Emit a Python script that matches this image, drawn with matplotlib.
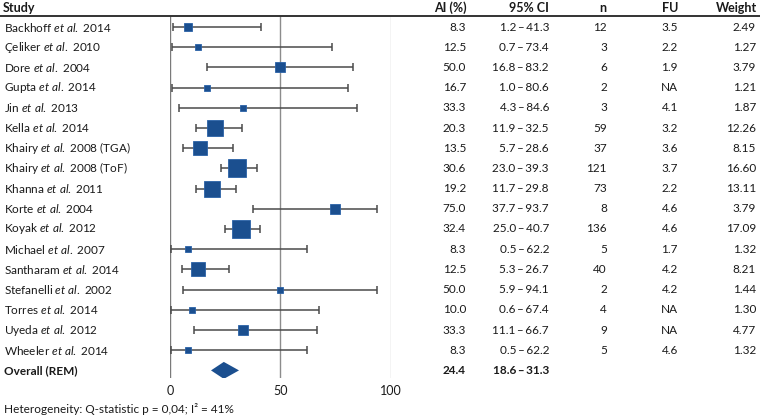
import matplotlib
matplotlib.use("Agg")
import matplotlib.pyplot as plt
import matplotlib.transforms as mtransforms
from matplotlib.lines import Line2D

plt.rcParams['font.family'] = ['Lato', 'DejaVu Sans']
plt.rcParams['mathtext.fontset'] = 'custom'
plt.rcParams['mathtext.it'] = 'Lato:italic'
plt.rcParams['mathtext.rm'] = 'Lato'

authors = ["Backhoff", "Çeliker", "Dore", "Gupta", "Jin", "Kella", "Khairy", "Khairy",
           "Khanna", "Korte", "Koyak", "Michael", "Santharam", "Stefanelli", "Torres",
           "Uyeda", "Wheeler"]
years = ["2014", "2010", "2004", "2014", "2013", "2014", "2008 (TGA)", "2008 (ToF)",
         "2011", "2004", "2012", "2007", "2014", "2002", "2014", "2012", "2014"]
ai = [8.3, 12.5, 50.0, 16.7, 33.3, 20.3, 13.5, 30.6, 19.2, 75.0, 32.4, 8.3, 12.5, 50.0, 10.0, 33.3, 8.3]
ci_lo = [1.2, 0.7, 16.8, 1.0, 4.3, 11.9, 5.7, 23.0, 11.7, 37.7, 25.0, 0.5, 5.3, 5.9, 0.6, 11.1, 0.5]
ci_hi = [41.3, 73.4, 83.2, 80.6, 84.6, 32.5, 28.6, 39.3, 29.8, 93.7, 40.7, 62.2, 26.7, 94.1, 67.4, 66.7, 62.2]
n = [12, 3, 6, 2, 3, 59, 37, 121, 73, 8, 136, 5, 40, 2, 4, 9, 5]
fu = ["3.5", "2.2", "1.9", "NA", "4.1", "3.2", "3.6", "3.7", "2.2", "4.6", "4.6", "1.7", "4.2", "4.2", "NA", "NA", "4.6"]
weight = [2.49, 1.27, 3.79, 1.21, 1.87, 12.26, 8.15, 16.60, 13.11, 3.79, 17.09, 1.32, 8.21, 1.44, 1.30, 4.77, 1.32]
overall_label = "Overall (REM)"
overall_ai = 24.4
overall_lo = 18.6
overall_hi = 31.3
xticks = [0, 50, 100]
headers = ["AI (%)", "95% CI", "n", "FU", "Weight"]
footnote = "Heterogeneity: Q-statistic p = 0,04; I² = 41%"

W, H = 760, 418
fig = plt.figure(figsize=(W / 100, H / 100), dpi=100)

ax_left, ax_right = 170, 390.5
ax_top, ax_bot = 16, 378
row0, dy = 27, 20.2
ax = fig.add_axes([ax_left / W, 1 - ax_bot / H, (ax_right - ax_left) / W, (ax_bot - ax_top) / H])
ax.set_xlim(0, 100)
ax.set_ylim((ax_bot - row0) / dy, (ax_top - row0) / dy)
for s in ax.spines.values():
    s.set_visible(False)
ax.set_yticks([])
ax.set_xticks(xticks)
ax.set_xticklabels([str(t) for t in xticks])
ax.tick_params(axis='x', length=0, pad=5, labelsize=9, colors='#1a1a1a')
ax.axvline(0, color='#7a7a7a', lw=1.0, zorder=1)
ax.axvline(50, color='#8c8c8c', lw=1.0, zorder=1)
ax.axvline(100, color='#c8c8c8', lw=1.0, zorder=1)

blue = '#1b4f8f'
rows = list(range(len(ai)))
for i in rows:
    ax.errorbar([ai[i]], [i], xerr=[[ai[i] - ci_lo[i]], [ci_hi[i] - ai[i]]],
                fmt='none', ecolor='#4a4a4a', elinewidth=1.1, capsize=2.6, capthick=1.1, zorder=2)
    side_px = 4.2 * weight[i] ** 0.5 + 1.2
    ax.plot([ai[i]], [i], marker='s', ms=side_px * 0.72, mfc=blue, mec='#2a62a8', mew=0.6,
            ls='none', zorder=3)

orow = len(ai)
hh = 0.42
ax.fill([overall_lo, overall_ai, overall_hi, overall_ai], [orow, orow - hh, orow, orow + hh],
        color=blue, zorder=3, lw=0)

tr = mtransforms.blended_transform_factory(fig.transFigure, ax.transData)
fs = 8.5
tc = '#1a1a1a'
def fx(px):
    return px / W

col_right = [466, 549, 607, 678, 756]
for i in rows:
    ax.text(fx(4), i, f"{authors[i]} $\\mathit{{et\\ al.}}$ {years[i]}", transform=tr,
            ha='left', va='center', fontsize=fs, color=tc, clip_on=False)
    vals = [f"{ai[i]:.1f}", f"{ci_lo[i]:.1f}\u2009\u2013\u2009{ci_hi[i]:.1f}", str(n[i]), fu[i], f"{weight[i]:.2f}"]
    for v, xr in zip(vals, col_right):
        ax.text(fx(xr), i, v, transform=tr, ha='right', va='center', fontsize=fs, color=tc, clip_on=False)

ax.text(fx(4), orow, overall_label, transform=tr, ha='left', va='center', fontsize=fs,
        fontweight='bold', color=tc, clip_on=False)
ax.text(fx(col_right[0]), orow, f"{overall_ai:.1f}", transform=tr, ha='right', va='center',
        fontsize=fs, fontweight='bold', color=tc, clip_on=False)
ax.text(fx(col_right[1]), orow, f"{overall_lo:.1f}\u2009\u2013\u2009{overall_hi:.1f}", transform=tr,
        ha='right', va='center', fontsize=fs, fontweight='bold', color=tc, clip_on=False)

# header
hy = 1 - 7.5 / H
hfs = 9
fig.text(fx(3), hy, "Study", ha='left', va='center', fontsize=hfs, fontweight='bold', color=tc)
for h, xr in zip(headers, [467, 549, 606, 678, 757]):
    fig.text(fx(xr), hy, h, ha='right', va='center', fontsize=hfs, fontweight='bold', color=tc)
fig.add_artist(Line2D([0, 1], [1 - 15.5 / H, 1 - 15.5 / H], transform=fig.transFigure,
                      color='#333333', lw=1.4))

fig.text(fx(4), 1 - 409 / H, footnote, ha='left', va='center', fontsize=fs, color=tc)

fig.savefig("out.png", dpi=100)
